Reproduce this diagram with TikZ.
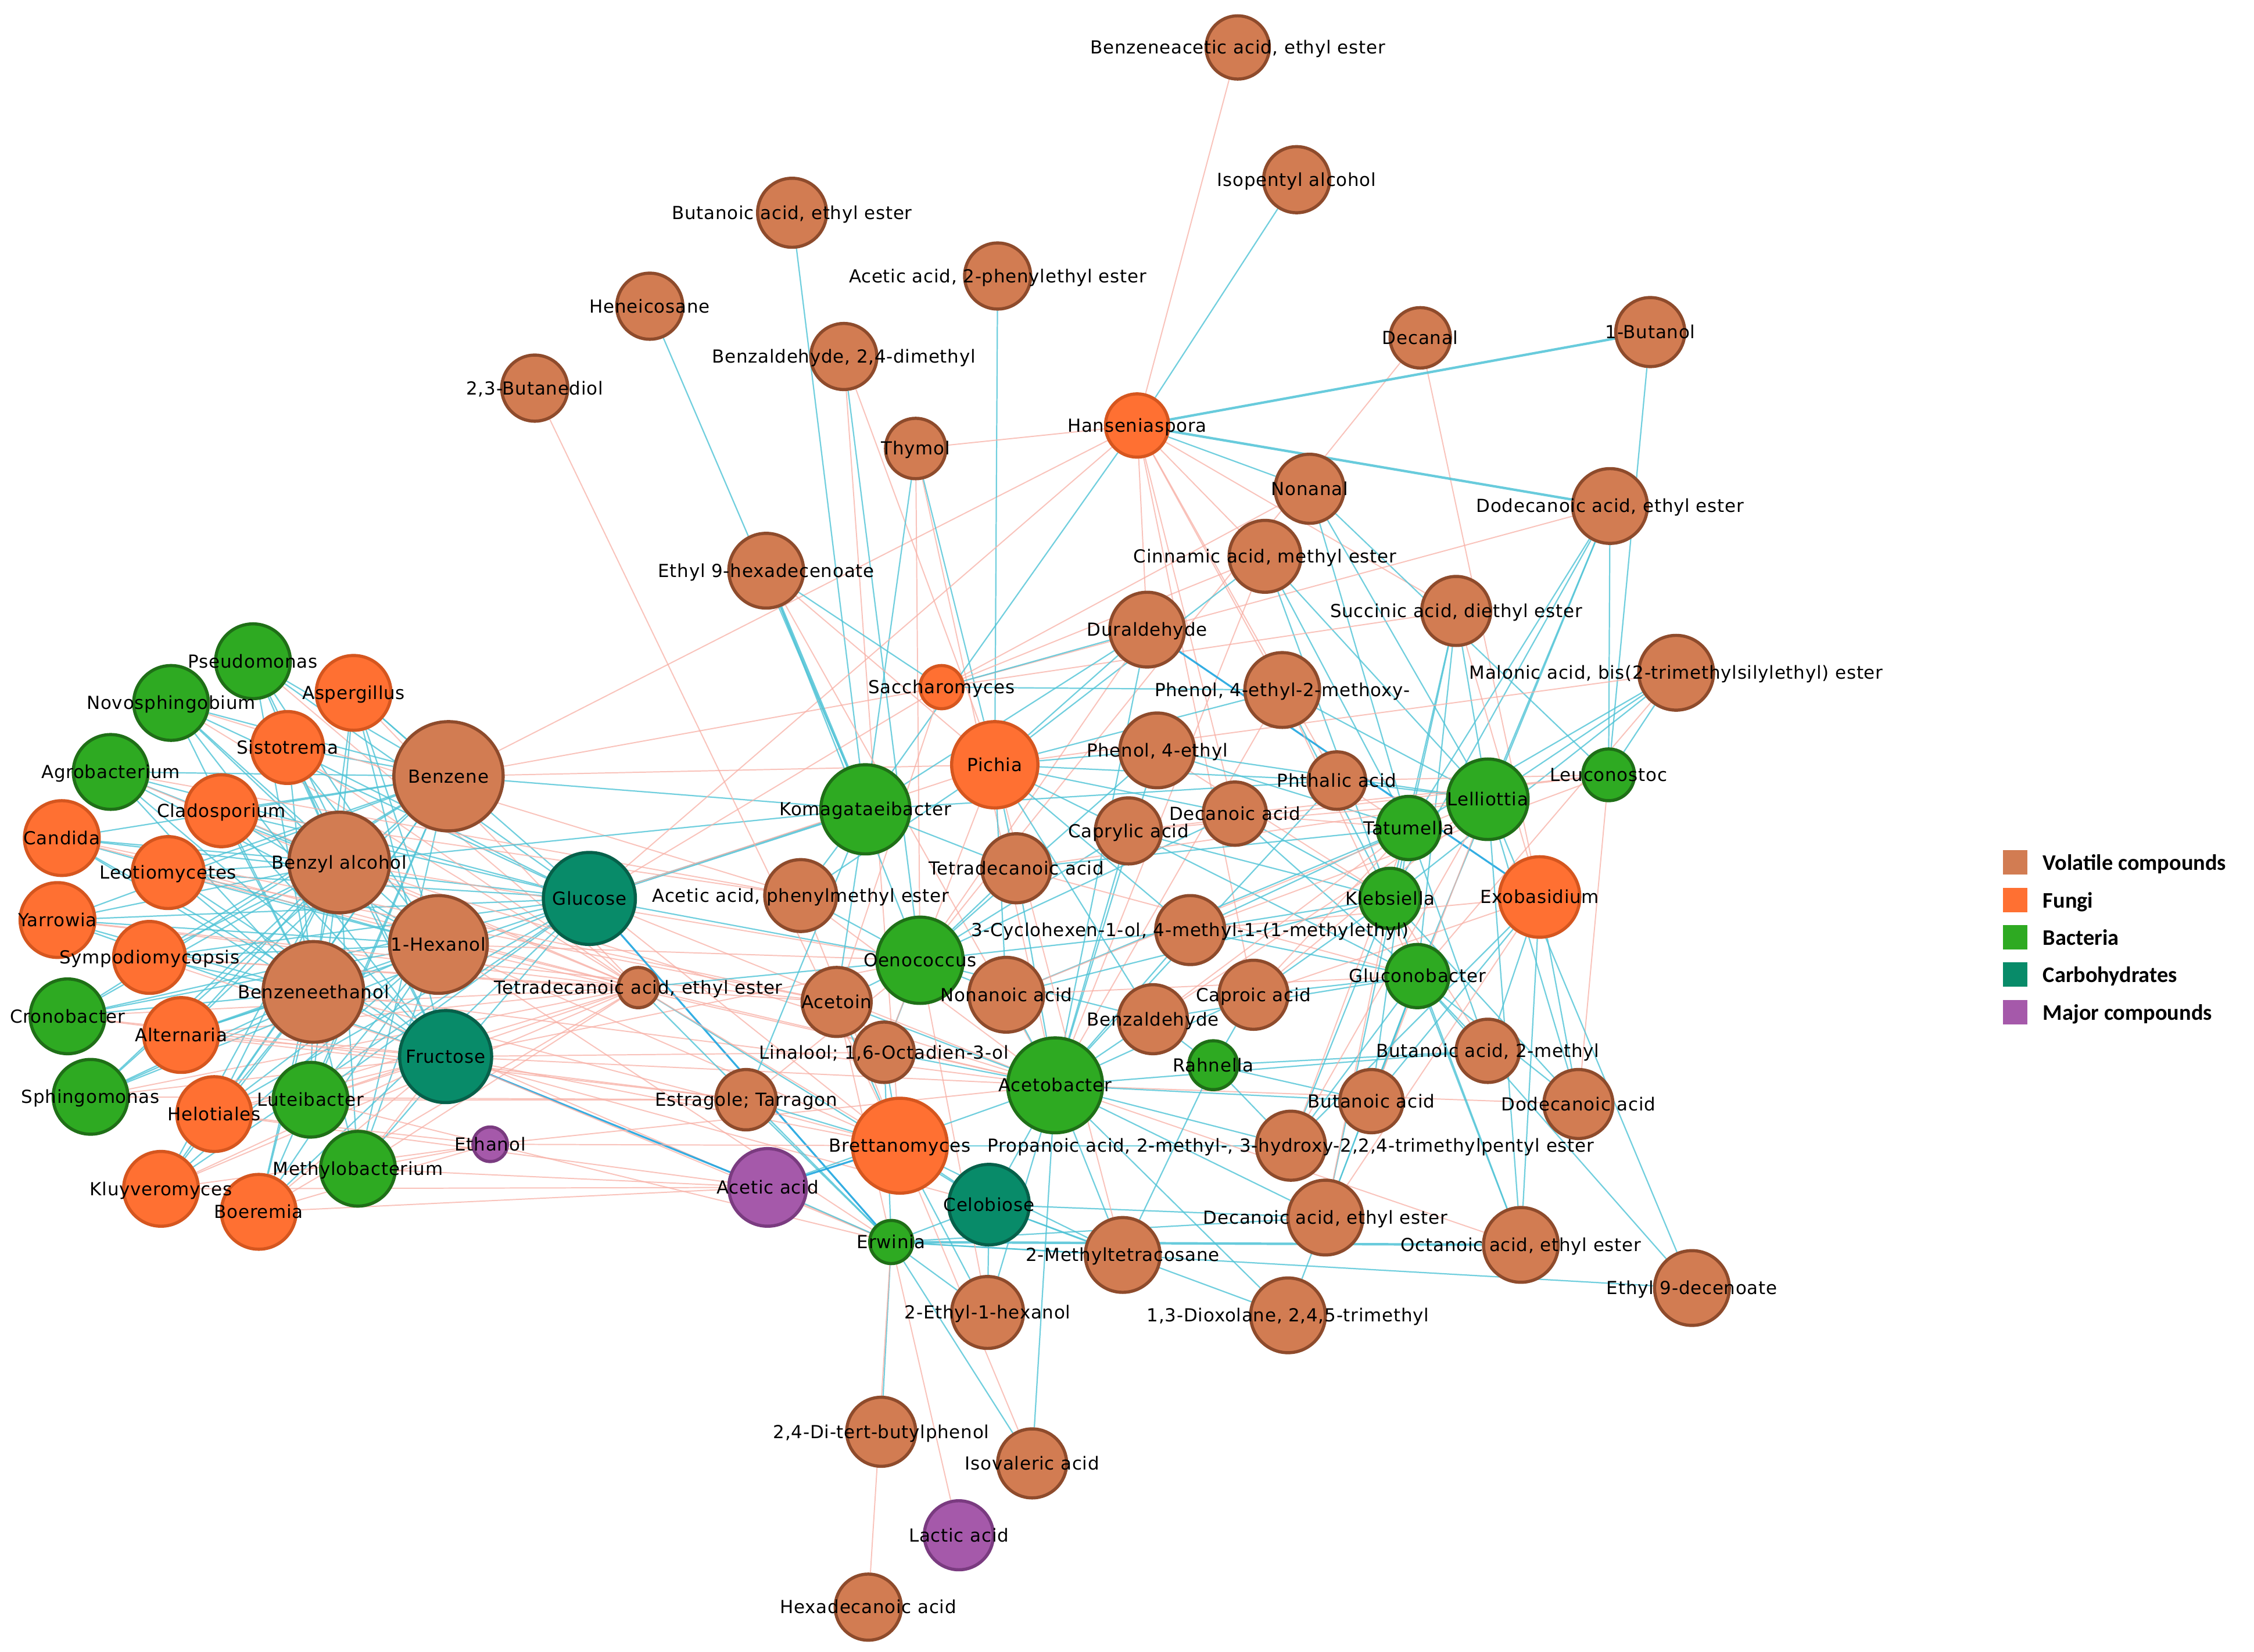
\documentclass[tikz,border=0pt]{standalone}
\usepackage{fontspec}
\usetikzlibrary{backgrounds}
\newfontfamily\lblfont[LetterSpace=2.5]{DejaVu Sans}
\newfontfamily\legfont{Carlito}
\definecolor{vcF}{HTML}{D27C52}\definecolor{vcD}{HTML}{8E4B2C}
\definecolor{fuF}{HTML}{FF7032}\definecolor{fuD}{HTML}{D5561F}
\definecolor{baF}{HTML}{2EAA22}\definecolor{baD}{HTML}{1F6F17}
\definecolor{chF}{HTML}{088B69}\definecolor{chD}{HTML}{06604A}
\definecolor{mcF}{HTML}{A559AA}\definecolor{mcD}{HTML}{7A3B80}
\definecolor{cyE}{HTML}{4EC3D6}\definecolor{cyT}{HTML}{1FA6E0}
\definecolor{pkE}{HTML}{F8AFA5}
\tikzset{
  nd/.style={circle,inner sep=0pt,line width=2.2pt},
  vc/.style={nd,fill=vcF,draw=vcD},
  fu/.style={nd,fill=fuF,draw=fuD},
  ba/.style={nd,fill=baF,draw=baD},
  ch/.style={nd,fill=chF,draw=chD},
  mc/.style={nd,fill=mcF,draw=mcD},
  ce/.style={draw=cyE,line width=0.9pt,opacity=0.8},
  cw/.style={draw=cyE,line width=1.7pt,opacity=0.85},
  ct/.style={draw=cyT,line width=1.3pt,opacity=0.9},
  pe/.style={draw=pkE,line width=0.8pt,opacity=0.75},
  lbl/.style={font=\lblfont\fontsize{12.5pt}{14pt}\selectfont,inner sep=0pt,anchor=base,yshift=-4.5pt,text=black},
  legsq/.style={rectangle,inner sep=0pt,minimum size=17pt},
  legtx/.style={font=\legfont\bfseries\fontsize{15.5pt}{17pt}\selectfont,inner sep=0pt,anchor=base west,text=black}
}
\newcommand\nd[5]{\node[#5,minimum size=#4pt] (#1) at (#2,#3) {};}
\newcommand\lb[2]{\node[lbl] (#1-l) at (#1) {#2};}
\newcommand\edgesfrom[3]{\foreach \t in {#3}{\draw[#1] (#2) -- (\t);}}
\begin{document}
\begin{tikzpicture}[x=1pt,y=-1pt]
\useasboundingbox (0,0) rectangle (1568,1149);
% ---------- volatile compounds
\nd{bzaee}{861}{33}{44}{vc}
\nd{isoa}{902}{125}{46}{vc}
\nd{buee}{551}{148}{48}{vc}
\nd{acpe}{694}{192}{46}{vc}
\nd{hene}{452}{213}{46}{vc}
\nd{bzdm}{587}{248}{46}{vc}
\nd{btd}{372}{270}{46}{vc}
\nd{dcnl}{988}{235}{42}{vc}
\nd{but1}{1148}{231}{48}{vc}
\nd{thy}{637}{312}{42}{vc}
\nd{nonl}{911}{340}{48}{vc}
\nd{ddee}{1120}{352}{52}{vc}
\nd{cinn}{880}{387}{50}{vc}
\nd{e9h}{533}{397}{52}{vc}
\nd{succ}{1013}{425}{48}{vc}
\nd{dura}{798}{438}{52}{vc}
\nd{pemx}{892}{480}{52}{vc}
\nd{malo}{1166}{468}{52}{vc}
\nd{pe4}{805}{522}{52}{vc}
\nd{benz}{312}{540}{76}{vc}
\nd{bzal}{236}{600}{70}{vc}
\nd{phth}{930}{543}{40}{vc}
\nd{deca}{859}{566}{44}{vc}
\nd{capy}{785}{578}{46}{vc}
\nd{tdca}{707}{604}{48}{vc}
\nd{acpm}{557}{623}{50}{vc}
\nd{hex1}{305}{657}{68}{vc}
\nd{bzet}{218}{690}{70}{vc}
\nd{cyhx}{828}{647}{48}{vc}
\nd{tdee}{444}{687}{28}{vc}
\nd{acto}{582}{697}{48}{vc}
\nd{nona}{700}{692}{52}{vc}
\nd{capr}{872}{692}{48}{vc}
\nd{bzah}{802}{709}{48}{vc}
\nd{lina}{615}{732}{42}{vc}
\nd{bu2m}{1035}{731}{44}{vc}
\nd{ddca}{1098}{768}{48}{vc}
\nd{estr}{519}{765}{42}{vc}
\nd{buta}{954}{766}{44}{vc}
\nd{prop}{898}{797}{48}{vc}
\nd{dcee}{922}{847}{52}{vc}
\nd{ocee}{1058}{866}{52}{vc}
\nd{mtc}{781}{873}{52}{vc}
\nd{e9d}{1177}{896}{52}{vc}
\nd{diox}{896}{915}{52}{vc}
\nd{eh1}{687}{913}{50}{vc}
\nd{dtbp}{613}{996}{48}{vc}
\nd{isov}{718}{1018}{48}{vc}
\nd{hxda}{604}{1118}{46}{vc}
% ---------- fungi
\nd{hans}{791}{296}{44}{fu}
\nd{aspe}{246}{482}{52}{fu}
\nd{sacc}{655}{478}{30}{fu}
\nd{sist}{200}{520}{50}{fu}
\nd{pich}{692}{532}{60}{fu}
\nd{cand}{43}{583}{52}{fu}
\nd{clad}{154}{564}{50}{fu}
\nd{leot}{117}{607}{50}{fu}
\nd{yarr}{40}{640}{52}{fu}
\nd{symp}{104}{666}{50}{fu}
\nd{exob}{1071}{624}{56}{fu}
\nd{alte}{126}{720}{52}{fu}
\nd{helo}{149}{775}{52}{fu}
\nd{bret}{626}{797}{66}{fu}
\nd{kluy}{112}{827}{52}{fu}
\nd{boer}{180}{843}{52}{fu}
% ---------- bacteria
\nd{pseu}{176}{460}{52}{ba}
\nd{novo}{119}{489}{52}{ba}
\nd{agro}{77}{537}{52}{ba}
\nd{koma}{602}{563}{62}{ba}
\nd{lell}{1035}{556}{56}{ba}
\nd{leuc}{1119}{539}{36}{ba}
\nd{tatu}{980}{576}{44}{ba}
\nd{kleb}{967}{625}{42}{ba}
\nd{oeno}{640}{668}{60}{ba}
\nd{gluc}{986}{679}{44}{ba}
\nd{cron}{47}{707}{52}{ba}
\nd{acet}{734}{755}{66}{ba}
\nd{rahn}{844}{741}{34}{ba}
\nd{sphi}{63}{763}{52}{ba}
\nd{lute}{216}{765}{52}{ba}
\nd{meth}{249}{813}{52}{ba}
\nd{erwi}{620}{864}{30}{ba}
% ---------- carbohydrates
\nd{glc}{410}{625}{64}{ch}
\nd{fru}{310}{735}{64}{ch}
\nd{celo}{688}{838}{56}{ch}
% ---------- major compounds
\nd{etoh}{341}{796}{24}{mc}
\nd{acac}{534}{826}{54}{mc}
\nd{lact}{667}{1068}{48}{mc}

% ---------- edges
\begin{pgfonlayer}{background}
\fill[white] (0,0) rectangle (1568,1149);
\foreach \s in {pseu,novo,agro,aspe,sist,cand,clad,leot,yarr,symp,cron,alte,sphi,helo,lute,kluy,boer,meth}{
  \foreach \t in {benz,bzal,hex1,bzet,glc}{\draw[ce] (\s) -- (\t);}
  \draw[pe] (\s) -- (tdee);
}
\foreach \s in {pseu,novo,agro,aspe,sist,cand,clad,leot,yarr}{\draw[ce] (\s) -- (fru);}
\foreach \s in {symp,cron,alte,sphi,helo,lute,kluy,boer,meth}{\draw[pe] (\s) -- (fru);}
\foreach \s in {lute,meth,boer,kluy,helo}{\draw[pe] (\s) -- (etoh);}
\foreach \s in {helo,kluy,boer,meth}{\draw[pe] (\s) -- (acac);}
\foreach \s in {alte,sphi,cron,lute}{\draw[pe] (\s) -- (estr);}
\foreach \s in {yarr,symp,leot,cand}{\draw[pe] (\s) -- (acto);}
\foreach \s in {agro,novo,clad}{\draw[pe] (\s) -- (acpm);}
\edgesfrom{pe}{benz}{hans,pich,sacc}
\draw[ce] (benz) -- (koma);
\draw[ce] (bzal) -- (koma);
\edgesfrom{pe}{bzal}{oeno,acet}
\edgesfrom{pe}{hex1}{bret,acet,oeno,erwi}
\edgesfrom{pe}{bzet}{bret,erwi,acet}
\draw[cw] (glc) -- (koma);
\draw[ce] (glc) -- (oeno);
\draw[ct] (glc) -- (erwi);
\edgesfrom{pe}{glc}{pich,sacc,acet,bret}
\draw[ct] (fru) -- (acac);
\edgesfrom{pe}{fru}{lina,bret,acet,erwi,celo,oeno}
\edgesfrom{ce}{tdee}{oeno,erwi,celo}
\edgesfrom{pe}{tdee}{bret,acet}
\edgesfrom{pe}{etoh}{erwi,bret,acet}
% top and centre
\draw[pe] (bzaee) -- (hans);
\draw[ce] (isoa) -- (hans);
\draw[ce] (buee) -- (koma);
\draw[ce] (acpe) -- (pich);
\draw[ce] (hene) -- (koma);
\draw[ce] (bzdm) -- (oeno);
\edgesfrom{pe}{bzdm}{bret,pich}
\draw[pe] (btd) -- (bret);
\edgesfrom{pe}{dcnl}{oeno,exob}
\draw[cw] (but1) -- (hans);
\draw[ce] (but1) -- (leuc);
\edgesfrom{pe}{thy}{hans,oeno,acet}
\edgesfrom{ce}{thy}{pich,koma}
\edgesfrom{ce}{hans}{nonl,koma}
\draw[cw] (hans) -- (ddee);
\edgesfrom{pe}{hans}{glc,dura,cinn,succ,pemx,phth,deca,capr}
\edgesfrom{ce}{nonl}{leuc,lell,tatu}
\draw[pe] (nonl) -- (sacc);
\draw[pe] (sacc) -- (ddee);
\edgesfrom{ce}{ddee}{lell,tatu,kleb,gluc,leuc}
\edgesfrom{ce}{cinn}{pich,lell,tatu,kleb}
\edgesfrom{pe}{cinn}{sacc,acet}
\draw[cw] (e9h) -- (koma);
\edgesfrom{ce}{e9h}{sacc,oeno}
\edgesfrom{pe}{e9h}{pich,acet}
\edgesfrom{ce}{succ}{tatu,kleb,gluc,lell}
\edgesfrom{pe}{succ}{exob,sacc}
\edgesfrom{ce}{malo}{lell,tatu,kleb,leuc}
\edgesfrom{pe}{malo}{pich,gluc}
\edgesfrom{ce}{dura}{pich,sacc,koma,acet}
\draw[ct] (dura) -- (exob);
\draw[pe] (dura) -- (oeno);
\edgesfrom{ce}{pemx}{sacc,lell,kleb,pich}
\edgesfrom{pe}{pemx}{gluc,acet}
\edgesfrom{ce}{pe4}{pich,acet,oeno,lell,tatu}
\draw[pe] (pe4) -- (kleb);
\edgesfrom{ce}{phth}{pich,koma,lell,acet}
\edgesfrom{pe}{phth}{tatu,leuc}
\edgesfrom{ce}{deca}{pich,oeno,kleb,gluc}
\edgesfrom{pe}{deca}{leuc,tatu}
\edgesfrom{ce}{capy}{pich,acet,oeno,kleb,gluc}
\edgesfrom{pe}{capy}{lell,leuc}
\edgesfrom{ce}{tdca}{koma,pich,oeno,acet,tatu}
\edgesfrom{pe}{tdca}{lell,gluc}
\edgesfrom{ce}{acpm}{koma,oeno,pich}
\edgesfrom{pe}{acpm}{bret,acet}
\edgesfrom{ce}{cyhx}{pich,acet,kleb,gluc,oeno,tatu}
\edgesfrom{pe}{cyhx}{leuc,exob}
\edgesfrom{ce}{acto}{oeno,koma,acet,bret}
\edgesfrom{pe}{acto}{sacc,erwi}
\edgesfrom{ce}{nona}{oeno,acet,pich,kleb,tatu}
\edgesfrom{pe}{nona}{gluc,lell}
\edgesfrom{ce}{capr}{acet,rahn,gluc,kleb}
\edgesfrom{pe}{capr}{lell,tatu,exob}
\edgesfrom{ce}{bzah}{acet,rahn,oeno,pich,gluc}
\edgesfrom{pe}{bzah}{tatu,lell}
\edgesfrom{ce}{lina}{oeno,acet,bret,erwi}
\draw[pe] (lina) -- (pich);
\edgesfrom{ce}{bu2m}{acet,exob,gluc,tatu,rahn}
\draw[pe] (bu2m) -- (kleb);
\edgesfrom{ce}{ddca}{gluc,exob,lell,kleb}
\edgesfrom{pe}{ddca}{leuc,acet}
\edgesfrom{ce}{estr}{erwi,bret,koma}
\draw[pe] (estr) -- (oeno);
\edgesfrom{ce}{buta}{acet,rahn,gluc,exob,tatu}
\draw[pe] (buta) -- (lell);
\edgesfrom{ce}{prop}{acet,rahn,bret,gluc,kleb,exob}
\edgesfrom{pe}{prop}{tatu,lell}
\edgesfrom{ce}{dcee}{acet,celo,erwi,gluc,tatu}
\edgesfrom{pe}{dcee}{exob,kleb}
\draw[cw] (ocee) -- (erwi);
\edgesfrom{ce}{ocee}{gluc,exob,kleb,lell}
\draw[pe] (ocee) -- (acet);
\edgesfrom{ce}{mtc}{acet,bret,erwi,celo,rahn}
\draw[pe] (mtc) -- (pich);
\edgesfrom{ce}{e9d}{gluc,erwi,lell}
\edgesfrom{ce}{diox}{acet,celo,gluc}
\edgesfrom{ce}{eh1}{erwi,celo,acet,bret}
\draw[pe] (eh1) -- (oeno);
\draw[ce] (dtbp) -- (erwi);
\edgesfrom{ce}{isov}{erwi,acet}
\draw[pe] (isov) -- (bret);
\draw[pe] (lact) -- (erwi);
\draw[pe] (hxda) -- (erwi);
\edgesfrom{ce}{celo}{acet,bret,erwi}
\draw[ct] (acac) -- (bret);
\edgesfrom{ce}{acac}{erwi,acet}
\end{pgfonlayer}

% ---------- labels
\lb{bzaee}{Benzeneacetic acid, ethyl ester}
\lb{isoa}{Isopentyl alcohol}
\lb{buee}{Butanoic acid, ethyl ester}
\lb{acpe}{Acetic acid, 2-phenylethyl ester}
\lb{hene}{Heneicosane}
\lb{bzdm}{Benzaldehyde, 2,4-dimethyl}
\lb{btd}{2,3-Butanediol}
\lb{dcnl}{Decanal}
\lb{but1}{1-Butanol}
\lb{thy}{Thymol}
\lb{nonl}{Nonanal}
\lb{ddee}{Dodecanoic acid, ethyl ester}
\lb{cinn}{Cinnamic acid, methyl ester}
\lb{e9h}{Ethyl 9-hexadecenoate}
\lb{succ}{Succinic acid, diethyl ester}
\lb{dura}{Duraldehyde}
\lb{pemx}{Phenol, 4-ethyl-2-methoxy-}
\lb{malo}{Malonic acid, bis(2-trimethylsilylethyl) ester}
\lb{pe4}{Phenol, 4-ethyl}
\lb{benz}{Benzene}
\lb{bzal}{Benzyl alcohol}
\lb{phth}{Phthalic acid}
\lb{deca}{Decanoic acid}
\lb{capy}{Caprylic acid}
\lb{tdca}{Tetradecanoic acid}
\lb{acpm}{Acetic acid, phenylmethyl ester}
\lb{hex1}{1-Hexanol}
\lb{bzet}{Benzeneethanol}
\lb{cyhx}{3-Cyclohexen-1-ol, 4-methyl-1-(1-methylethyl)}
\lb{tdee}{Tetradecanoic acid, ethyl ester}
\lb{acto}{Acetoin}
\lb{nona}{Nonanoic acid}
\lb{capr}{Caproic acid}
\lb{bzah}{Benzaldehyde}
\lb{lina}{Linalool; 1,6-Octadien-3-ol}
\lb{bu2m}{Butanoic acid, 2-methyl}
\lb{ddca}{Dodecanoic acid}
\lb{estr}{Estragole; Tarragon}
\lb{buta}{Butanoic acid}
\lb{prop}{Propanoic acid, 2-methyl-, 3-hydroxy-2,2,4-trimethylpentyl ester}
\lb{dcee}{Decanoic acid, ethyl ester}
\lb{ocee}{Octanoic acid, ethyl ester}
\lb{mtc}{2-Methyltetracosane}
\lb{e9d}{Ethyl 9-decenoate}
\lb{diox}{1,3-Dioxolane, 2,4,5-trimethyl}
\lb{eh1}{2-Ethyl-1-hexanol}
\lb{dtbp}{2,4-Di-tert-butylphenol}
\lb{isov}{Isovaleric acid}
\lb{hxda}{Hexadecanoic acid}
\lb{hans}{Hanseniaspora}
\lb{aspe}{Aspergillus}
\lb{sacc}{Saccharomyces}
\lb{sist}{Sistotrema}
\lb{pich}{Pichia}
\lb{cand}{Candida}
\lb{clad}{Cladosporium}
\lb{leot}{Leotiomycetes}
\lb{yarr}{Yarrowia}
\lb{symp}{Sympodiomycopsis}
\lb{exob}{Exobasidium}
\lb{alte}{Alternaria}
\lb{helo}{Helotiales}
\lb{bret}{Brettanomyces}
\lb{kluy}{Kluyveromyces}
\lb{boer}{Boeremia}
\lb{pseu}{Pseudomonas}
\lb{novo}{Novosphingobium}
\lb{agro}{Agrobacterium}
\lb{koma}{Komagataeibacter}
\lb{lell}{Lelliottia}
\lb{leuc}{Leuconostoc}
\lb{tatu}{Tatumella}
\lb{kleb}{Klebsiella}
\lb{oeno}{Oenococcus}
\lb{gluc}{Gluconobacter}
\lb{cron}{Cronobacter}
\lb{acet}{Acetobacter}
\lb{rahn}{Rahnella}
\lb{sphi}{Sphingomonas}
\lb{lute}{Luteibacter}
\lb{meth}{Methylobacterium}
\lb{erwi}{Erwinia}
\lb{glc}{Glucose}
\lb{fru}{Fructose}
\lb{celo}{Celobiose}
\lb{etoh}{Ethanol}
\lb{acac}{Acetic acid}
\lb{lact}{Lactic acid}

% ---------- legend
\node[legsq,fill=vcF] (lg1) at (1402,600) {};
\node[legsq,fill=fuF] (lg2) at (1402,626) {};
\node[legsq,fill=baF] (lg3) at (1402,652) {};
\node[legsq,fill=chF] (lg4) at (1402,678) {};
\node[legsq,fill=mcF] (lg5) at (1402,704) {};
\node[legtx] (lg1-t) at (1421,605.5) {Volatile compounds};
\node[legtx] (lg2-t) at (1421,631.5) {Fungi};
\node[legtx] (lg3-t) at (1421,657.5) {Bacteria};
\node[legtx] (lg4-t) at (1421,683.5) {Carbohydrates};
\node[legtx] (lg5-t) at (1421,709.5) {Major compounds};
\end{tikzpicture}
\end{document}
